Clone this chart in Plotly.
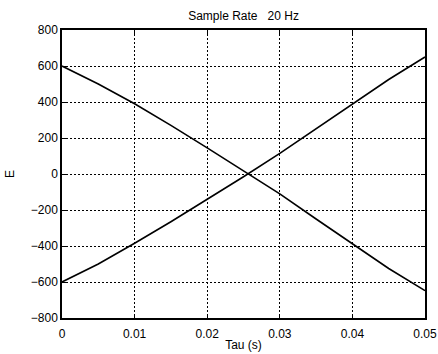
import plotly.graph_objects as go

tau = [0, 0.005, 0.01, 0.015, 0.02, 0.025, 0.03, 0.035, 0.04, 0.045, 0.05]
e_down = [600, 500, 390, 270, 145, 18, -110, -250, -390, -525, -648]
e_up = [-600, -500, -385, -265, -140, -15, 115, 250, 390, 525, 650]
x_ticks = [0, 0.01, 0.02, 0.03, 0.04, 0.05]
x_tick_text = ["0", "0.01", "0.02", "0.03", "0.04", "0.05"]
y_ticks = [-800, -600, -400, -200, 0, 200, 400, 600, 800]

fig = go.Figure()
for ys in (e_down, e_up):
    fig.add_trace(go.Scatter(x=tau, y=ys, mode="lines",
                             line=dict(color="black", width=1.6), showlegend=False))

font = dict(family="Liberation Sans, Arial, sans-serif", size=12, color="black")
axis_common = dict(showline=True, linecolor="black", linewidth=1.5, mirror="ticks",
                   ticks="inside", ticklen=4, tickcolor="black",
                   showgrid=True, gridcolor="black", griddash="1.5px,2.5px", gridwidth=1.2,
                   zeroline=False, tickfont=font, automargin=False)
fig.update_layout(
    width=438, height=354,
    margin=dict(l=62, r=13, t=30, b=36),
    paper_bgcolor="white", plot_bgcolor="white",
    title=dict(text="Sample Rate   20 Hz", x=0.556, xanchor="center", y=0.955, yanchor="middle",
               font=font),
    xaxis=dict(range=[0, 0.05], tickvals=x_ticks, ticktext=x_tick_text,
               ticklabelstandoff=4,
               title=dict(text="Tau (s)", font=font, standoff=0), **axis_common),
    yaxis=dict(range=[-800, 800], tickvals=y_ticks,
               title=dict(text="E", font=font, standoff=14), **axis_common),
)
fig.write_html("out.html")
